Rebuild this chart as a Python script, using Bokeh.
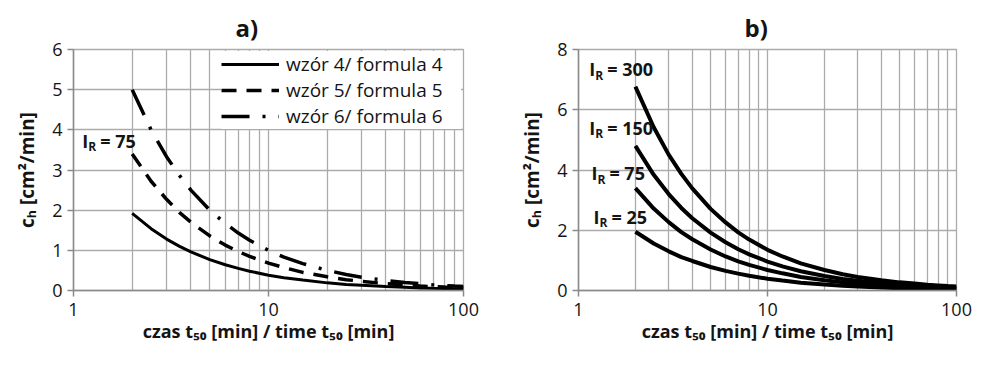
from bokeh.plotting import figure
from bokeh.models import FixedTicker, BasicTickFormatter, Label, Range1d, Title
from bokeh.layouts import row
from bokeh.embed import file_html
from bokeh.resources import INLINE

# ---------------- data ----------------
t50 = [2, 2.5, 3, 3.5, 4, 5, 6, 7, 8, 10, 12, 15, 20, 25, 30, 40, 50, 60, 70, 80, 90, 100]

# panel a) I_R = 75
formula4 = [1.92, 1.54, 1.28, 1.10, 0.96, 0.77, 0.64, 0.55, 0.48, 0.38, 0.32, 0.26, 0.19, 0.15, 0.13, 0.10, 0.08, 0.064, 0.055, 0.048, 0.043, 0.038]
formula5 = [3.40, 2.72, 2.27, 1.94, 1.70, 1.36, 1.13, 0.97, 0.85, 0.68, 0.57, 0.45, 0.34, 0.27, 0.23, 0.17, 0.14, 0.11, 0.097, 0.085, 0.076, 0.068]
formula6 = [5.00, 4.00, 3.33, 2.86, 2.50, 2.00, 1.67, 1.43, 1.25, 1.00, 0.83, 0.67, 0.50, 0.40, 0.33, 0.25, 0.20, 0.17, 0.14, 0.125, 0.11, 0.10]
legend_a = ["wzór 4/ formula 4", "wzór 5/ formula 5", "wzór 6/ formula 6"]

# panel b) curves for several I_R
ir_values = ["25", "75", "150", "300"]
ir25 = [1.95, 1.56, 1.30, 1.11, 0.98, 0.78, 0.65, 0.56, 0.49, 0.39, 0.33, 0.26, 0.20, 0.16, 0.13, 0.10, 0.078, 0.065, 0.056, 0.049, 0.043, 0.039]
ir75 = [3.40, 2.72, 2.27, 1.94, 1.70, 1.36, 1.13, 0.97, 0.85, 0.68, 0.57, 0.45, 0.34, 0.27, 0.23, 0.17, 0.14, 0.11, 0.097, 0.085, 0.076, 0.068]
ir150 = [4.80, 3.84, 3.20, 2.74, 2.40, 1.92, 1.60, 1.37, 1.20, 0.96, 0.80, 0.64, 0.48, 0.38, 0.32, 0.24, 0.19, 0.16, 0.14, 0.12, 0.11, 0.096]
ir300 = [6.77, 5.42, 4.51, 3.87, 3.39, 2.71, 2.26, 1.93, 1.69, 1.35, 1.13, 0.90, 0.68, 0.54, 0.45, 0.34, 0.27, 0.23, 0.19, 0.17, 0.15, 0.135]

x_major = [1, 10, 100]
x_minor = [2, 3, 4, 5, 6, 7, 8, 9, 20, 30, 40, 50, 60, 70, 80, 90]
y_ticks_a = [0, 1, 2, 3, 4, 5, 6]
y_ticks_b = [0, 2, 4, 6, 8]

x_label = "czas t₅₀ [min] / time t₅₀ [min]"
y_label = "cₕ [cm²/min]"

FONT = "Open Sans"
GRID = "#ababab"
AXIS = "#8a8a8a"
TXT = "#141414"


def make_fig(title, title_offset, y_max, y_ticks, width, height, bl, br, bt, bb):
    p = figure(width=width, height=height, x_axis_type="log",
               x_range=Range1d(1, 100), y_range=Range1d(0, y_max),
               output_backend="svg", toolbar_location=None,
               min_border_left=bl, min_border_right=br,
               min_border_top=bt, min_border_bottom=bb)
    p.title = Title(text=title, text_font=FONT, text_font_size="24px",
                    text_font_style="bold", align="left", offset=title_offset,
                    text_color=TXT, standoff=11)
    p.outline_line_color = GRID
    p.outline_line_width = 1.3
    p.background_fill_color = "white"
    p.border_fill_color = "white"

    xt = FixedTicker(ticks=x_major, minor_ticks=x_minor)
    yt = FixedTicker(ticks=y_ticks)
    p.xaxis.ticker = xt
    p.xgrid.ticker = xt
    p.yaxis.ticker = yt
    p.ygrid.ticker = yt
    p.xaxis.formatter = BasicTickFormatter()

    for g in (p.xgrid, p.ygrid):
        g.grid_line_color = GRID
        g.grid_line_width = 1.3
    p.xgrid.minor_grid_line_color = GRID
    p.xgrid.minor_grid_line_width = 1.3

    for ax in (p.xaxis, p.yaxis):
        ax.axis_line_color = AXIS
        ax.axis_line_width = 1.5
        ax.major_tick_line_color = AXIS
        ax.major_tick_line_width = 1.5
        ax.major_tick_in = 0
        ax.major_tick_out = 6
        ax.minor_tick_line_color = None
        ax.major_label_text_font = FONT
        ax.major_label_text_font_size = "18px"
        ax.major_label_text_color = TXT
        ax.axis_label_text_font = FONT
        ax.axis_label_text_font_style = "bold"
        ax.axis_label_text_color = TXT
    p.xaxis.axis_label = x_label
    p.yaxis.axis_label = y_label
    p.xaxis.axis_label_text_font_size = "18px"
    p.yaxis.axis_label_text_font_size = "19px"
    p.xaxis.major_label_standoff = 6
    p.xaxis.axis_label_standoff = 0
    p.yaxis.major_label_standoff = 5
    p.yaxis.axis_label_standoff = 9
    return p


def ir_label(p, x, y, num):
    common = dict(text_font=FONT, text_font_style="bold", text_color=TXT,
                  text_baseline="middle", text_align="left")
    p.add_layout(Label(x=x, y=y, text="I", text_font_size="18px", **common))
    p.add_layout(Label(x=x, y=y, text="R", text_font_size="12px",
                       x_offset=6, y_offset=-6, **common))
    p.add_layout(Label(x=x, y=y, text="= " + num, text_font_size="18px",
                       x_offset=18, **common))


# ---------------- panel a ----------------
pa = make_fig("a)", 162, 6, y_ticks_a, 490, 353, 73, 27, 49, 56)
pa.line(t50, formula4, line_color="black", line_width=3, legend_label=legend_a[0])
pa.line(t50, formula5, line_color="black", line_width=3.5, line_dash="15 10",
        legend_label=legend_a[1])
pa.line(t50, formula6, line_color="black", line_width=3.5, line_dash="28 13 3 13",
        legend_label=legend_a[2])
lg = pa.legend[0]
lg.location = "top_right"
lg.margin = 2
lg.padding = 2
lg.spacing = 0
lg.glyph_width = 58
lg.glyph_height = 22
lg.label_height = 22
lg.label_width = 175
lg.label_standoff = 7
lg.label_text_font = FONT
lg.label_text_font_size = "19px"
lg.label_text_color = TXT
lg.border_line_color = None
lg.background_fill_color = "white"
lg.background_fill_alpha = 1.0
ir_label(pa, 1.11, 3.73, "75")

# ---------------- panel b ----------------
pb = make_fig("b)", 166, 8, y_ticks_b, 482, 353, 88, 16, 47, 63)
for ys in (ir25, ir75, ir150, ir300):
    pb.line(t50, ys, line_color="black", line_width=4)
label_pos_x = [1.20, 1.17, 1.14, 1.14]
label_pos_y = [2.44, 3.90, 5.40, 7.35]
for lx, ly, num in zip(label_pos_x, label_pos_y, ir_values):
    ir_label(pb, lx, ly, num)

layout = row(pa, pb)
open("out.html", "w").write(file_html(layout, INLINE))
